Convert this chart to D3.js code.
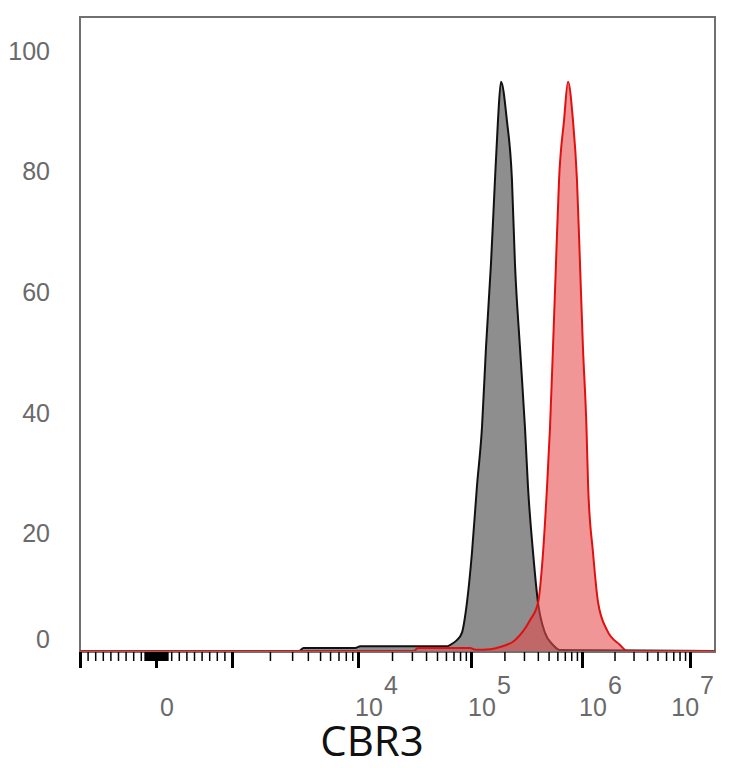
<!DOCTYPE html>
<html>
<head>
<meta charset="utf-8">
<script src="https://cdn.jsdelivr.net/npm/d3@7"></script>
<style>
  body { margin: 0; background: #fff; }
  .tick-label { font-family: "Liberation Sans", Arial, sans-serif; font-size: 25px; fill: #6a6a6a; }
  .title { font-family: "Open Sans", "Noto Sans", sans-serif; font-size: 42px; fill: #111; }
</style>
</head>
<body>
<div id="chart"></div>
<script>
// control (gray) histogram: intensity, % of max
const grayX = [-1000, 3400, 3700, 9500, 10500, 62000, 68000, 75000, 83000, 92000, 102000, 113000,
  125600, 136500, 151400, 164400, 175000, 186200, 210500, 233900, 248800, 276000, 306300,
  326200, 362300, 401800, 464500, 548000, 634000, 17000000];
const grayY = [0, 0, 0.5, 0.5, 0.8, 0.8, 1.2, 1.8, 3.0, 8.0, 16.3, 27.2,
  37.1, 50.4, 64.3, 78.1, 88, 94.4, 88, 78.1, 64.3, 50.4, 37.1,
  27.2, 16.3, 8.0, 3.0, 1.0, 0.15, 0];

// CBR3 stained (red) histogram
const redX = [-1000, 31000, 34000, 98000, 110000, 150000, 182600, 249000, 340000, 401800,
  445600, 484000, 515000, 548000, 583000, 621000, 689000, 748000, 829000, 901000, 959000,
  1020000, 1100000, 1140000, 1265000, 1410000, 1700000, 2250000, 2610000, 17000000];
const redY = [0, 0, 0.5, 0.5, 0.2, 0.3, 0.66, 1.8, 5.1, 8.0,
  16.3, 27.2, 37.1, 50.4, 64.3, 78.1, 88, 94.4, 88, 78.1, 64.3,
  50.4, 37.1, 27.2, 16.3, 8.0, 3.5, 1.0, 0, 0];

const yTicks = [0, 20, 40, 60, 80, 100];
const xLabelValues = [0, 1e4, 1e5, 1e6, 1e7];
const xLabelExp = ["", "4", "5", "6", "7"];
const majorTicks = [-1000, 0, 1000, 1e4, 1e5, 1e6, 1e7];
const axisTitle = "CBR3";

function createHistogram() {
    const w = 734;
    const h = 768;
    const left = 80, right = 715, top = 17, bottom = 651;

    // linear below |1000|, log above (logicle-ish display)
    function tf(v) {
        const a = Math.abs(v);
        if (a <= 1000) return v / 1000;
        return Math.sign(v) * (1 + Math.log10(a / 1000));
    }

    const xt = d3.scaleLinear()
        .domain([-1, 0, 1, 2, 3, 4, 5])
        .range([left, 156, 232, 358, 471, 582, 690]);
    const y = d3.scaleLinear().domain([0, 100]).range([bottom, 48]);

    const gray = grayX.map((x, i) => ({x: x, v: grayY[i]}));
    const red = redX.map((x, i) => ({x: x, v: redY[i]}));

    // minor ticks
    const minorTicks = [];
    for (let v = -900; v <= 900; v += 100) if (v !== 0) minorTicks.push(v);
    for (let v = -150; v <= 150; v += 10) if (v !== 0 && v % 100 !== 0) minorTicks.push(v);
    for (let k = 3; k <= 6; k++) {
        for (let m = 2; m <= 9; m++) minorTicks.push(m * Math.pow(10, k));
    }

    const svg = d3.select("#chart").append("svg")
        .attr("width", w)
        .attr("height", h);

    svg.append("defs").append("clipPath").attr("id", "plot-clip")
        .append("rect")
        .attr("x", left).attr("y", top)
        .attr("width", right - left).attr("height", bottom - top);

    /* FRAME */
    svg.append("rect")
        .attr("x", left).attr("y", top)
        .attr("width", right - left).attr("height", bottom - top + 1)
        .attr("fill", "none")
        .attr("stroke", "#707070")
        .attr("stroke-width", 2);

    /* HISTOGRAMS */
    const area = d3.area()
        .x(d => xt(tf(d.x)))
        .y0(y(0))
        .y1(d => y(d.v))
        .curve(d3.curveMonotoneX);
    const line = d3.line()
        .x(d => xt(tf(d.x)))
        .y(d => y(d.v))
        .curve(d3.curveMonotoneX);

    const plot = svg.append("g").attr("clip-path", "url(#plot-clip)");

    plot.append("path").datum(gray)
        .attr("d", area)
        .attr("fill", "#8e8e8e");
    plot.append("path").datum(gray)
        .attr("d", line)
        .attr("fill", "none")
        .attr("stroke", "#111")
        .attr("stroke-width", 2);

    plot.append("path").datum(red)
        .attr("d", area)
        .attr("fill", "rgba(230,77,77,0.59)");
    plot.append("path").datum(red)
        .attr("d", line)
        .attr("fill", "none")
        .attr("stroke", "#e01010")
        .attr("stroke-width", 2);

    /* X AXIS TICKS */
    const minorAxis = svg.append("g")
        .attr("transform", "translate(0," + (bottom + 1) + ")")
        .call(d3.axisBottom(xt).tickValues(minorTicks.map(tf)).tickSize(9).tickFormat(""));
    minorAxis.select(".domain").remove();
    minorAxis.selectAll("line").attr("stroke", "#000").attr("stroke-width", 1.5);

    const majorAxis = svg.append("g")
        .attr("transform", "translate(0," + (bottom + 1) + ")")
        .call(d3.axisBottom(xt).tickValues(majorTicks.map(tf)).tickSize(16).tickFormat(""));
    majorAxis.select(".domain").remove();
    majorAxis.selectAll("line").attr("stroke", "#000").attr("stroke-width", 3);

    /* X TICK LABELS (base and exponent as separate texts) */
    const labelG = svg.append("g").attr("class", "tick-label");
    xLabelValues.forEach(function(d, i) {
        const base = labelG.append("text")
            .attr("y", 716)
            .text(xLabelExp[i] ? "10" : "0");
        const baseW = base.node().getComputedTextLength();
        let expW = 0;
        let exp = null;
        if (xLabelExp[i]) {
            exp = labelG.append("text")
                .attr("y", 694)
                .text(xLabelExp[i]);
            expW = exp.node().getComputedTextLength();
        }
        let x = xt(tf(d)) + 11 - baseW / 2;
        if (x + baseW + expW > right - 2) x = right - 2 - baseW - expW;
        base.attr("x", x);
        if (exp) exp.attr("x", x + baseW + 1);
    });

    /* Y TICK LABELS */
    svg.append("g").attr("class", "tick-label")
        .selectAll("text")
        .data(yTicks)
        .enter()
        .append("text")
        .attr("x", 50)
        .attr("y", d => d === 0 ? y(d) - 12 : y(d) + 3)
        .attr("dy", "0.35em")
        .attr("text-anchor", "end")
        .text(d => d);

    /* AXIS TITLE */
    svg.append("text")
        .attr("class", "title")
        .attr("x", 372)
        .attr("y", 756)
        .attr("text-anchor", "middle")
        .text(axisTitle);
}

createHistogram();
</script>
</body>
</html>
